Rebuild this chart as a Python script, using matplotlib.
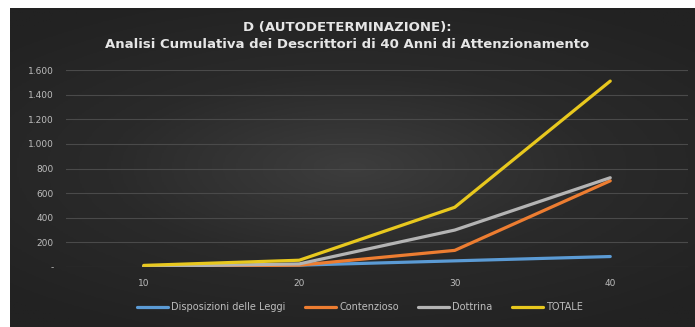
import numpy as np
import matplotlib
matplotlib.use("Agg")
import matplotlib.pyplot as plt
from matplotlib.colors import LinearSegmentedColormap
from matplotlib.ticker import FuncFormatter

# --------------------------------------------------------------------------
# Data
# --------------------------------------------------------------------------
anni = [10, 20, 30, 40]
disposizioni = [5, 15, 50, 85]
contenzioso = [3, 15, 135, 700]
dottrina = [5, 25, 300, 725]
totale = [13, 55, 485, 1510]

series_names = ["Disposizioni delle Leggi", "Contenzioso", "Dottrina", "TOTALE"]
series_colors = ["#5b9bd5", "#ed7d31", "#b4b4b4", "#e8c81e"]
y_ticks = [0, 200, 400, 600, 800, 1000, 1200, 1400, 1600]

W, H = 695, 327
fig = plt.figure(figsize=(W / 100, H / 100), dpi=100, facecolor="white")

# dark background panel with a soft radial gradient
bg_cmap = LinearSegmentedColormap.from_list("bg", ["#3d3d3d", "#2a2a2a", "#222222"])
bg = fig.add_axes([10 / W, 0, 1 - 10 / W, 1 - 8 / H])
yy, xx = np.mgrid[-1:1:200j, -1:1:400j]
r = np.sqrt((xx / 1.1) ** 2 + (yy / 0.9) ** 2)
bg.imshow(np.clip(r, 0, 1.3), cmap=bg_cmap, vmin=0, vmax=1.3,
          aspect="auto", extent=[0, 1, 0, 1])
bg.set_axis_off()

ax = fig.add_axes([66 / W, 1 - 267 / H, 622 / W, 197 / H])
ax.set_facecolor("none")

for vals, name, col in zip([disposizioni, contenzioso, dottrina, totale],
                           series_names, series_colors):
    ax.plot(anni, vals, color=col, lw=2.3, label=name,
            solid_capstyle="round", solid_joinstyle="round")

ax.set_xlim(5, 45)
ax.set_ylim(0, 1600)
ax.set_xticks(anni)
ax.set_yticks(y_ticks)
ax.yaxis.set_major_formatter(FuncFormatter(
    lambda v, p: "-" if v == 0 else f"{int(v):,}".replace(",", ".")))
ax.grid(axis="y", color="#4a4a4a", lw=0.8)
ax.set_axisbelow(True)
for s in ax.spines.values():
    s.set_visible(False)
ax.tick_params(length=0, colors="#bdbdbd", labelsize=6.5)
ax.tick_params(axis="x", pad=9)
ax.tick_params(axis="y", pad=9)

fig.text(0.5, 1 - 27 / H, "D (AUTODETERMINAZIONE):", ha="center", va="center",
         color="#e6e6e6", fontsize=9.5, fontweight="bold")
fig.text(0.5, 1 - 45 / H,
         "Analisi Cumulativa dei Descrittori di 40 Anni di Attenzionamento",
         ha="center", va="center", color="#e6e6e6", fontsize=9.5,
         fontweight="bold")

fig.legend(loc="center", bbox_to_anchor=(360 / W, 1 - 307 / H), ncol=4,
           frameon=False, fontsize=7, labelcolor="#bdbdbd",
           handlelength=3.2, handletextpad=0.3, columnspacing=2.0)

fig.savefig("out.png", dpi=100, facecolor="white")
